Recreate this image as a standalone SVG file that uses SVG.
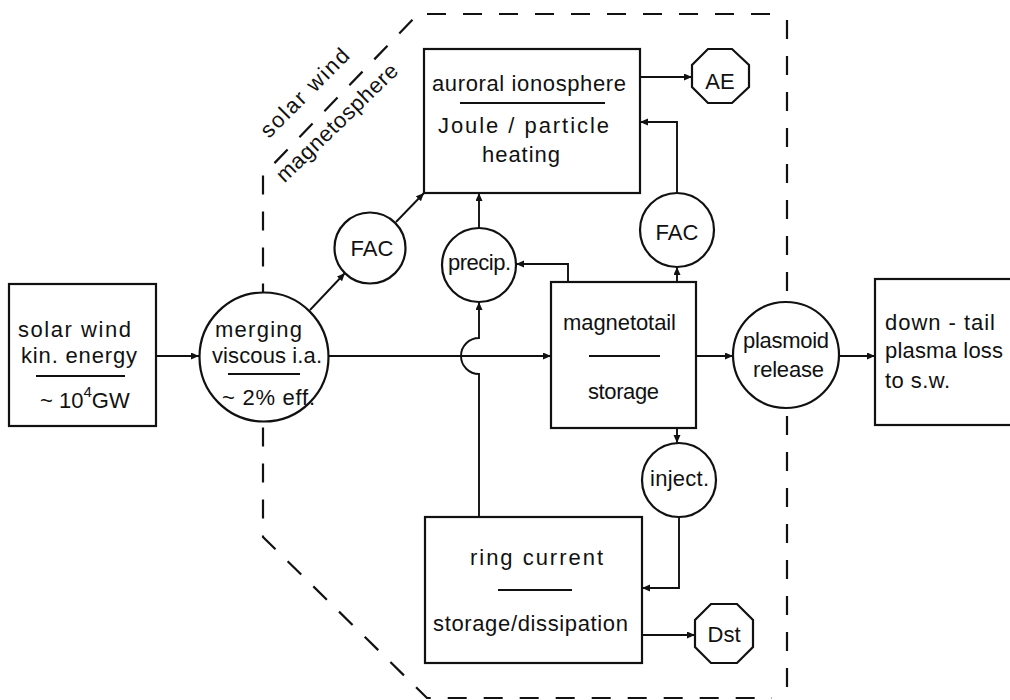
<svg xmlns="http://www.w3.org/2000/svg" width="1010" height="700" viewBox="0 0 1010 700">
  <style>
    .box { fill: #fff; stroke: #111; stroke-width: 2.2; }
    .node { fill: #fff; stroke: #111; stroke-width: 2.2; }
    .rule { stroke: #111; stroke-width: 1.8; }
    .edge { fill: none; stroke: #111; stroke-width: 1.9; }
    .bound { fill: none; stroke: #111; stroke-width: 2.2; stroke-dasharray: 19 17; }
    text { font-family: "Liberation Sans", "DejaVu Sans", sans-serif; font-size: 22px; fill: #111; }
  </style>
  <defs>
    <marker id="arr" markerUnits="userSpaceOnUse" markerWidth="10" markerHeight="8" refX="8" refY="3.5" orient="auto">
      <path d="M0,0 L8,3.5 L0,7 z" fill="#111"/>
    </marker>
  </defs>
  <rect width="1010" height="700" fill="#fff"/>

  <!-- boundary between solar wind and magnetosphere -->
  <g id="boundary">
    <path class="bound" d="M770,14 L418,14 L263,175 L263,537 L427,698 L772,698"/>
    <path class="bound" d="M787,20 L787,692"/>
    <text transform="translate(310,98) rotate(-45)" text-anchor="middle" textLength="116" lengthAdjust="spacing">solar wind</text>
    <text transform="translate(342,128) rotate(-44)" text-anchor="middle" textLength="160" lengthAdjust="spacing">magnetosphere</text>
  </g>

  <!-- connectors -->
  <g id="connectors">
    <path class="edge" marker-end="url(#arr)" d="M156,356 L199,356"/>
    <path class="edge" marker-end="url(#arr)" d="M310,310 L345,273"/>
    <path class="edge" marker-end="url(#arr)" d="M396,222 L424,193"/>
    <path class="edge" marker-end="url(#arr)" d="M328,356 L551,356"/>
    <path class="edge" marker-end="url(#arr)" d="M479,228 L479,193"/>
    <path class="edge" marker-end="url(#arr)" d="M479,517 L479,374 A18,18 0 0 1 479,338 L479,302"/>
    <path class="edge" marker-end="url(#arr)" d="M568,282 L568,264 L516,264"/>
    <path class="edge" marker-end="url(#arr)" d="M677,282 L677,267"/>
    <path class="edge" marker-end="url(#arr)" d="M677,193 L677,122 L640,122"/>
    <path class="edge" marker-end="url(#arr)" d="M640,77 L692,77"/>
    <path class="edge" marker-end="url(#arr)" d="M696,356 L733,356"/>
    <path class="edge" marker-end="url(#arr)" d="M839,356 L875,356"/>
    <path class="edge" marker-end="url(#arr)" d="M677,428 L677,443"/>
    <path class="edge" marker-end="url(#arr)" d="M679,517 L679,588 L642,588"/>
    <path class="edge" marker-end="url(#arr)" d="M642,635 L695,635"/>
  </g>

  <g id="solar-wind-energy">
    <rect class="box" x="9" y="284" width="147" height="142"/>
    <text x="18" y="337" textLength="113" lengthAdjust="spacing">solar wind</text>
    <text x="21" y="363" textLength="116" lengthAdjust="spacing">kin. energy</text>
    <line class="rule" x1="36" y1="376" x2="125" y2="376"/>
    <text x="40" y="408">~ 10<tspan font-size="15" dy="-11">4</tspan><tspan dy="11">GW</tspan></text>
  </g>

  <g id="merging">
    <circle class="node" cx="264" cy="357" r="64.5"/>
    <text x="215" y="337" textLength="87" lengthAdjust="spacing">merging</text>
    <text x="212" y="363" textLength="110" lengthAdjust="spacing">viscous i.a.</text>
    <line class="rule" x1="228" y1="374" x2="300" y2="374"/>
    <text x="222" y="405" textLength="93" lengthAdjust="spacing">~ 2% eff.</text>
  </g>

  <g id="fac-left">
    <circle class="node" cx="370" cy="248" r="35.5"/>
    <text x="372" y="256" text-anchor="middle">FAC</text>
  </g>

  <g id="auroral-ionosphere">
    <rect class="box" x="424" y="49" width="216" height="144"/>
    <text x="432" y="91" textLength="194" lengthAdjust="spacing">auroral ionosphere</text>
    <line class="rule" x1="460" y1="103" x2="605" y2="103"/>
    <text x="438" y="133" textLength="171" lengthAdjust="spacing">Joule / particle</text>
    <text x="482" y="162" textLength="78" lengthAdjust="spacing">heating</text>
  </g>

  <g id="ae">
    <polygon class="node" points="708,49 732,49 749,65 749,87 732,103 708,103 692,87 692,65"/>
    <text x="720" y="89" text-anchor="middle">AE</text>
  </g>

  <g id="fac-right">
    <circle class="node" cx="677" cy="230" r="37"/>
    <text x="677" y="240" text-anchor="middle">FAC</text>
  </g>

  <g id="precip">
    <circle class="node" cx="479" cy="265" r="37"/>
    <text x="448" y="270" textLength="63" lengthAdjust="spacing">precip.</text>
  </g>

  <g id="magnetotail">
    <rect class="box" x="551" y="282" width="145" height="146"/>
    <text x="563" y="330" textLength="113" lengthAdjust="spacing">magnetotail</text>
    <line class="rule" x1="589" y1="356" x2="660" y2="356"/>
    <text x="588" y="399" textLength="71" lengthAdjust="spacing">storage</text>
  </g>

  <g id="plasmoid">
    <circle class="node" cx="786" cy="355" r="53"/>
    <text x="743" y="348" textLength="86" lengthAdjust="spacing">plasmoid</text>
    <text x="753" y="377" textLength="71" lengthAdjust="spacing">release</text>
  </g>

  <g id="down-tail">
    <rect class="box" x="875" y="279" width="160" height="146"/>
    <text x="885" y="330" textLength="110" lengthAdjust="spacing">down - tail</text>
    <text x="885" y="358" textLength="118" lengthAdjust="spacing">plasma loss</text>
    <text x="885" y="388" textLength="65" lengthAdjust="spacing">to s.w.</text>
  </g>

  <g id="inject">
    <circle class="node" cx="679" cy="480" r="37"/>
    <text x="650" y="486" textLength="59" lengthAdjust="spacing">inject.</text>
  </g>

  <g id="ring-current">
    <rect class="box" x="425" y="517" width="217" height="146"/>
    <text x="470" y="565" textLength="133" lengthAdjust="spacing">ring current</text>
    <line class="rule" x1="498" y1="590" x2="572" y2="590"/>
    <text x="433" y="631" textLength="195" lengthAdjust="spacing">storage/dissipation</text>
  </g>

  <g id="dst">
    <polygon class="node" points="711,604 737,604 753,620 753,647 737,663 711,663 695,647 695,620"/>
    <text x="724" y="642" text-anchor="middle">Dst</text>
  </g>
</svg>
